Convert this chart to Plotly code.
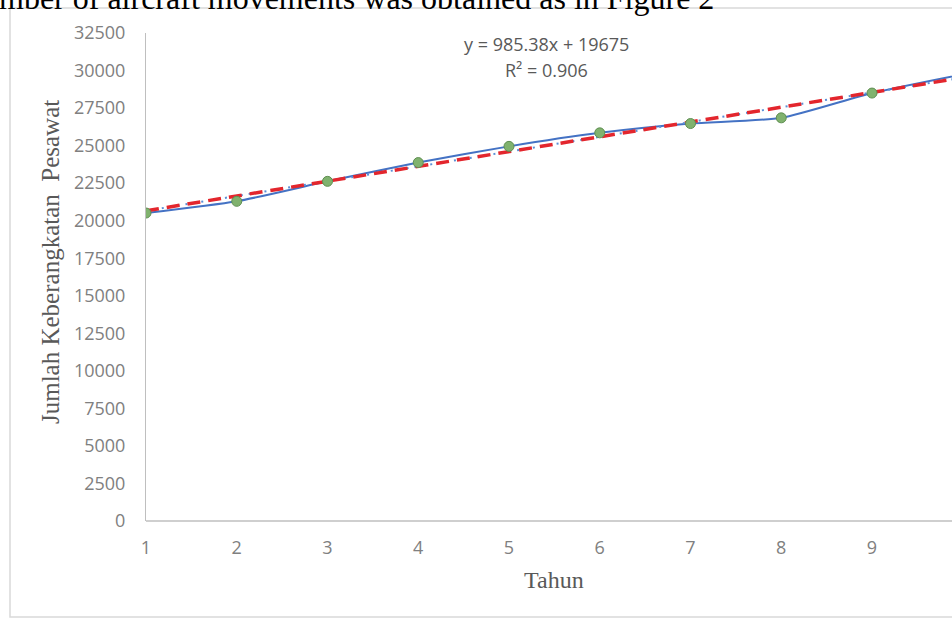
import plotly.graph_objects as go

# Data
tahun = [1, 2, 3, 4, 5, 6, 7, 8, 9, 10]
keberangkatan = [20510, 21290, 22620, 23870, 24950, 25850, 26470, 26850, 28500, 29750]
x_ticks = [1, 2, 3, 4, 5, 6, 7, 8, 9, 10]
y_ticks = list(range(0, 32501, 2500))
slope = 985.38
intercept = 19675
r2 = 0.906
trend = [slope * t + intercept for t in tahun]

W, H = 952, 619
L, R, T, B = 146, 0, 33, 98
pw, ph = W - L - R, H - T - B

def px(xpix):
    return (xpix - L) / pw

def py(ypix):
    return (H - B - ypix) / ph

fig = go.Figure()

fig.add_trace(go.Scatter(
    x=tahun, y=keberangkatan, mode="lines",
    line=dict(color="#4472C4", width=2, shape="spline", smoothing=0.6),
    showlegend=False, hoverinfo="skip"))

fig.add_trace(go.Scatter(
    x=tahun, y=trend, mode="lines",
    line=dict(color="#5b8fd6", width=2, dash="2px,6px"),
    showlegend=False, hoverinfo="skip"))

fig.add_trace(go.Scatter(
    x=tahun, y=trend, mode="lines",
    line=dict(color="#e3262d", width=3.5, dash="13px,8px"),
    showlegend=False, hoverinfo="skip"))

fig.add_trace(go.Scatter(
    x=tahun, y=keberangkatan, mode="markers",
    marker=dict(size=10, color="#80b26e", line=dict(color="#5f8f52", width=1)),
    showlegend=False, hoverinfo="skip"))

tick_font = dict(family="Open Sans, sans-serif", size=18, color="#808080")

fig.update_xaxes(
    range=[1, 1 + pw / 90.75], tickvals=x_ticks,
    ticktext=[str(v) for v in x_ticks],
    showgrid=False, zeroline=False, showline=False,
    ticks="", tickfont=tick_font, ticklabelstandoff=14)

fig.update_yaxes(
    range=[0, 32500], tickvals=y_ticks,
    ticktext=[str(v) for v in y_ticks],
    showgrid=False, zeroline=False, showline=True,
    linecolor="#bfbfbf", linewidth=1,
    ticks="", tickfont=tick_font, ticklabelstandoff=16)

# x axis baseline
fig.add_shape(type="line", xref="paper", yref="paper",
              x0=0, x1=1.1, y0=0, y1=0,
              line=dict(color="#bfbfbf", width=1.5))

# chart border
fig.add_shape(type="rect", xref="paper", yref="paper",
              x0=px(10), x1=px(970), y0=py(617), y1=py(8),
              line=dict(color="#d9d9d9", width=1.5), layer="below")

fig.add_annotation(
    xref="paper", yref="paper", x=px(546), y=py(44), xanchor="center", yanchor="middle",
    text="y = 985.38x + 19675", showarrow=False,
    font=dict(family="Open Sans, sans-serif", size=18, color="#595959"))
fig.add_annotation(
    xref="paper", yref="paper", x=px(546), y=py(70), xanchor="center", yanchor="middle",
    text="R² = 0.906", showarrow=False,
    font=dict(family="Open Sans, sans-serif", size=18, color="#595959"))

fig.add_annotation(
    xref="paper", yref="paper", x=px(554), y=py(580), xanchor="center", yanchor="middle",
    text="Tahun", showarrow=False,
    font=dict(family="Liberation Serif, Times New Roman, serif", size=24, color="#595959"))
fig.add_annotation(
    xref="paper", yref="paper", x=px(50), y=py(262), xanchor="center", yanchor="middle",
    text="Jumlah Keberangkatan  Pesawat", showarrow=False, textangle=-90,
    font=dict(family="Liberation Serif, Times New Roman, serif", size=25, color="#595959"))

# cut-off body text above the figure
fig.add_annotation(
    xref="paper", yref="paper", x=px(-3), y=py(-2), xanchor="left", yanchor="middle",
    text="mber of aircraft movements was obtained as in Figure 2", showarrow=False,
    font=dict(family="Liberation Serif, Times New Roman, serif", size=32, color="#000000"))

fig.update_layout(
    width=W, height=H,
    margin=dict(l=L, r=R, t=T, b=B, pad=0),
    paper_bgcolor="white", plot_bgcolor="white",
)

fig.write_html(
    "out.html",
    config={"displayModeBar": False},
    post_script="document.body.style.margin='0px';document.body.style.overflow='hidden';",
)
